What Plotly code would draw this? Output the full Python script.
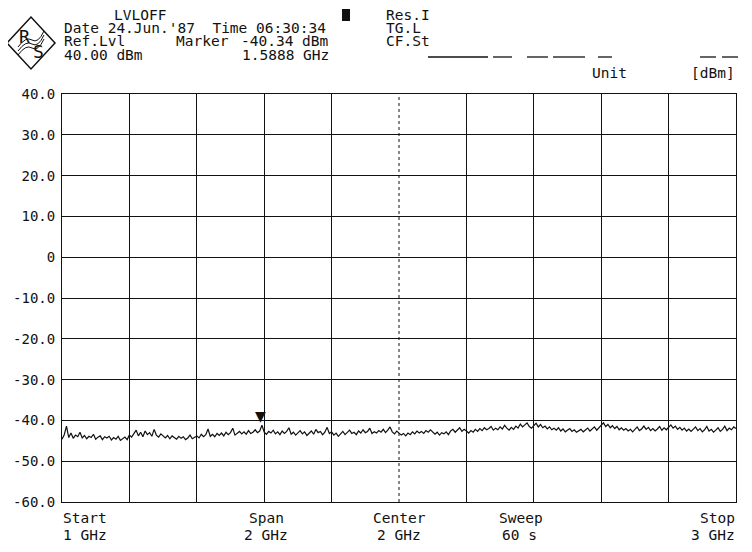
import plotly.graph_objects as go

# ---- data ----
start_ghz = 1.0
stop_ghz = 3.0
center_ghz = 2.0
span_ghz = 2.0
sweep_s = 60
ref_level_dbm = 40.00
marker_ghz = 1.5888
marker_dbm = -40.34

y_ticks = [40, 30, 20, 10, 0, -10, -20, -30, -40, -50, -60]
y_tick_labels = ["40.0", "30.0", "20.0", "10.0", "0", "-10.0", "-20.0", "-30.0", "-40.0", "-50.0", "-60.0"]

trace_dbm = [
    -44.6, -43.5, -41.4, -44.2, -43.1, -44.4, -43.6, -44.0, -42.9, -44.3,
    -43.7, -44.5, -43.9, -44.2, -43.4, -44.6, -44.1, -43.8, -44.7, -44.0,
    -44.3, -43.9, -44.8, -44.2, -44.6, -43.9, -44.9, -44.4, -44.1, -44.7,
    -43.6, -44.1, -43.2, -42.4, -43.8, -42.9, -44.0, -42.6, -43.5, -43.0,
    -43.9, -42.2, -43.6, -44.1, -43.3, -43.9, -44.3, -43.7, -44.5, -43.8,
    -44.2, -44.6, -43.9, -44.4, -44.0, -44.7, -44.3, -43.6, -44.5, -44.1,
    -43.8, -44.3, -43.4, -44.0, -43.5, -42.1, -43.9, -43.4, -44.0, -43.2,
    -43.7, -43.1, -43.8, -42.9, -43.5, -43.0, -41.9, -43.6, -43.1, -42.7,
    -43.3, -42.8, -43.4, -42.5, -43.2, -42.9, -42.3, -43.0, -42.6, -41.2,
    -42.9, -43.4, -42.7, -43.1, -42.4, -43.3, -42.8, -43.5, -42.6, -43.2,
    -42.7, -41.8, -43.4, -42.9, -43.6, -43.0, -42.5, -43.3, -42.8, -43.7,
    -43.1, -42.6, -43.4, -42.2, -43.0, -42.7, -43.5, -42.9, -41.7, -43.2,
    -42.8, -43.6, -43.1, -43.9, -43.3, -42.7, -43.5, -43.0, -42.4, -43.2,
    -42.9, -43.5, -42.6, -43.1, -42.3, -43.0, -42.7, -41.9, -43.2, -42.8,
    -43.1, -42.5, -42.9, -42.2, -43.0, -42.4, -41.6, -42.8, -43.3, -42.6,
    -43.0, -43.6, -43.2, -43.8, -43.1, -43.5, -42.8, -43.3, -42.6, -43.1,
    -42.7, -43.2, -42.5, -42.9, -42.3, -42.8, -43.4, -42.9, -43.6, -43.0,
    -43.3, -42.8, -43.5, -42.6, -42.2, -42.9, -42.4, -41.8, -42.7, -42.2,
    -42.6, -43.1, -42.5, -42.9, -42.2, -42.7, -42.0, -42.5, -41.8, -42.3,
    -42.0, -41.5, -42.4, -41.9, -42.3, -41.6, -42.1, -41.2, -41.9, -42.4,
    -41.7, -42.2, -41.4, -41.9, -40.9, -41.6, -41.1, -40.6, -41.5, -41.9,
    -41.3, -40.7, -41.6, -41.0, -41.8, -41.4, -42.1, -41.6, -42.3, -41.9,
    -42.4, -41.8, -42.6, -42.1, -42.8, -42.3, -42.0, -42.7, -42.3, -42.9,
    -42.5, -42.2, -42.8, -42.4, -41.9, -42.6, -42.1, -41.6, -42.4, -41.8,
    -41.2, -40.6, -41.5, -41.0, -41.8, -41.3, -42.0, -41.5, -42.3, -41.8,
    -42.4, -42.0, -42.6, -42.2, -42.8, -42.3, -41.6, -42.5, -42.1, -41.4,
    -42.2, -41.7, -42.5, -42.0, -42.6, -42.1, -41.5, -42.4, -41.8, -42.3,
    -41.6, -41.1, -41.9, -41.4, -42.2, -41.7, -42.4, -41.9, -42.6, -42.1,
    -42.7, -42.2, -41.6, -42.5, -42.0, -42.8, -42.3, -41.5, -42.6, -42.2,
    -42.9, -42.4, -41.8, -42.7, -42.2, -41.4, -42.5, -41.9, -42.3, -41.6,
    -42.0,
]
n = len(trace_dbm)
freq_ghz = [start_ghz + (stop_ghz - start_ghz) * i / (n - 1) for i in range(n)]

x_grid = [1.2, 1.4, 1.6, 1.8, 2.2, 2.4, 2.6, 2.8]

# ---- layout helpers (page pixel -> paper); page body has an 8px margin ----
BODY = 8
W, H = 752 - BODY, 552 - BODY
L, R, T, B = 62, 736, 94, 502          # plot area in page pixels
PW, PH = R - L, B - T

def px(x):
    return (x - L) / PW

def py(y):
    return (B - y) / PH

FONT = "DejaVu Sans Mono"
INK = "#111111"

fig = go.Figure()
fig.add_trace(go.Scatter(x=freq_ghz, y=trace_dbm, mode="lines",
                         line=dict(color=INK, width=1.2), hoverinfo="skip"))

ann = []

def txt(s, x, y, xanchor="left", size=14.5):
    ann.append(dict(text=s, x=px(x), y=py(y), xref="paper", yref="paper",
                    xanchor=xanchor, yanchor="middle", showarrow=False,
                    font=dict(family=FONT, size=size, color=INK)))

# header
txt("LVLOFF", 112, 15)
txt("Date 24.Jun.'87  Time 06:30:34", 62, 28)
txt("Ref.Lvl", 62, 41)
txt("Marker", 174, 41)
txt(f"{marker_dbm:.2f} dBm", 331, 41, xanchor="right")
txt(f"{ref_level_dbm:.2f} dBm", 62, 55)
txt(f"{marker_ghz:.4f} GHz", 331, 55, xanchor="right")
txt("Res.I", 384, 15)
txt("TG.L", 384, 28)
txt("CF.St", 384, 41)
txt("Unit", 590, 73)
txt("[dBm]", 737, 73, xanchor="right")

# bottom labels
txt("Start", 61, 518)
txt(f"{start_ghz:g} GHz", 61, 535)
txt("Span", 266, 518, xanchor="center")
txt(f"{span_ghz:g} GHz", 266, 535, xanchor="center")
txt("Center", 399, 518, xanchor="center")
txt(f"{center_ghz:g} GHz", 399, 535, xanchor="center")
txt("Sweep", 497, 518)
txt(f"{sweep_s} s", 500, 535)
txt("Stop", 737, 518, xanchor="right")
txt(f"{stop_ghz:g} GHz", 737, 535, xanchor="right")

# marker triangle sitting on the marker position
ann.append(dict(text="▼", x=marker_ghz, y=marker_dbm, xref="x", yref="y",
                xanchor="center", yanchor="bottom", showarrow=False,
                font=dict(family="DejaVu Sans", size=14, color=INK), yshift=-4))

shapes = []
# center line dotted
shapes.append(dict(type="line", x0=center_ghz, x1=center_ghz, y0=0, y1=1,
                   xref="x", yref="paper", line=dict(color=INK, width=1, dash="dot")))
# R&S logo (diamond)
cx, cy, hw, hh = 31, 43, 24, 26
shapes.append(dict(type="path", xref="paper", yref="paper",
                   path=f"M {px(cx-hw)},{py(cy)} L {px(cx)},{py(cy-hh)} L {px(cx+hw)},{py(cy)} L {px(cx)},{py(cy+hh)} Z",
                   line=dict(color=INK, width=1.5)))
for off in (-4, 0, 4):
    shapes.append(dict(type="path", xref="paper", yref="paper",
                       path=(f"M {px(cx-13)},{py(cy+off+8)} Q {px(cx-5)},{py(cy+off-3)} {px(cx+1)},{py(cy+off+1)} "
                             f"T {px(cx+13)},{py(cy+off-8)}"),
                       line=dict(color=INK, width=1)))
ann.append(dict(text="R", x=px(cx - 7), y=py(cy - 7), xref="paper", yref="paper",
                xanchor="center", yanchor="middle", showarrow=False,
                font=dict(family=FONT, size=18, color=INK)))
ann.append(dict(text="S", x=px(cx + 7), y=py(cy + 9), xref="paper", yref="paper",
                xanchor="center", yanchor="middle", showarrow=False,
                font=dict(family=FONT, size=18, color=INK)))

# small black box near top
shapes.append(dict(type="rect", xref="paper", yref="paper",
                   x0=px(342), x1=px(350), y0=py(9), y1=py(21),
                   fillcolor=INK, line=dict(width=0)))

# clipped text row (only the bottoms of characters are visible)
for a, b in [(428, 488), (493, 512), (527, 548), (553, 585), (598, 612), (700, 716), (722, 738)]:
    shapes.append(dict(type="line", xref="paper", yref="paper",
                       x0=px(a), x1=px(b), y0=py(57), y1=py(57),
                       line=dict(color=INK, width=1.3)))

fig.update_layout(
    width=W, height=H,
    margin=dict(l=L - BODY, r=W - (R - BODY), t=T - BODY, b=H - (B - BODY), autoexpand=False),
    paper_bgcolor="white", plot_bgcolor="white",
    showlegend=False,
    annotations=ann, shapes=shapes,
    xaxis=dict(range=[start_ghz, stop_ghz], tickvals=x_grid, showticklabels=False,
               showgrid=True, gridcolor=INK, gridwidth=1, zeroline=False,
               showline=True, linecolor=INK, linewidth=1, mirror=True, ticks=""),
    yaxis=dict(range=[-60, 40], tickvals=y_ticks, ticktext=y_tick_labels,
               showgrid=True, gridcolor=INK, gridwidth=1, zeroline=False,
               showline=True, linecolor=INK, linewidth=1, mirror=True, ticks="",
               tickfont=dict(family=FONT, size=14, color=INK), ticklabelstandoff=3),
)

fig.write_html("out.html")
